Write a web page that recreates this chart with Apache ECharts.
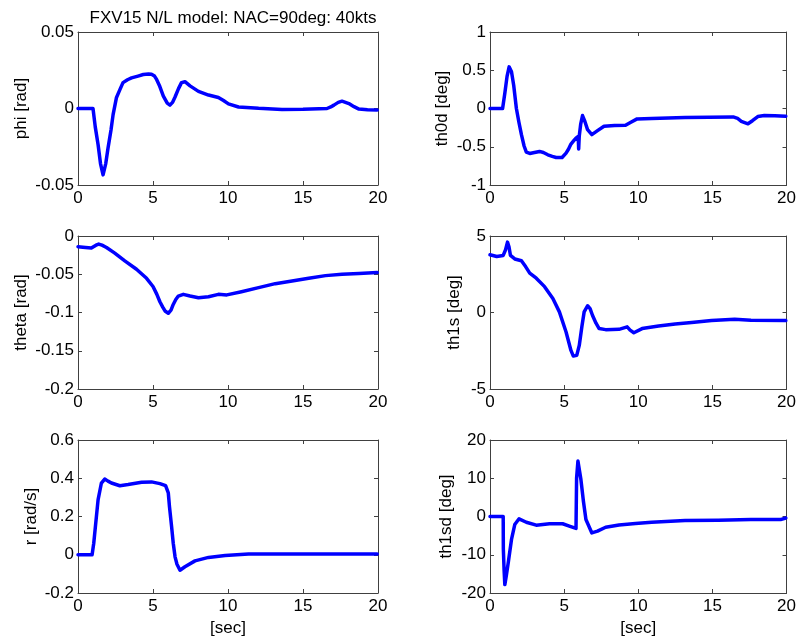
<!DOCTYPE html>
<html>
<head>
<meta charset="utf-8">
<title>FXV15 N/L model: NAC=90deg: 40kts</title>
<script src="https://cdn.jsdelivr.net/npm/echarts@6/dist/echarts.min.js"></script>
<style>
  html, body { margin: 0; padding: 0; background: #fff; }
  #chart { width: 799px; height: 641px; }
</style>
</head>
<body>
<div id="chart"></div>
<script>
// Simulated response, time histories (time in seconds)
const titleText = 'FXV15 N/L model: NAC=90deg: 40kts';
const xAxisLabel = '[sec]';

const phiT = [0, 0.5, 1.0, 1.15, 1.34, 1.5, 1.67, 1.85, 2.0, 2.2, 2.34, 2.56, 2.8, 3.0, 3.3, 3.57, 4.0, 4.35, 4.7, 4.9, 5.1, 5.24, 5.45, 5.69, 5.95, 6.13, 6.3, 6.47, 6.7, 6.9, 7.13, 7.47, 8.03, 8.7, 9.36, 9.7, 10.03, 10.7, 12.04, 13.6, 15.0, 16.6, 16.85, 17.06, 17.35, 17.6, 18.06, 18.4, 18.73, 19.3, 19.95];
const phiV = [0, 0, 0, -0.012, -0.0237, -0.036, -0.0434, -0.036, -0.026, -0.014, -0.004, 0.007, 0.0125, 0.0169, 0.0188, 0.0200, 0.0212, 0.0222, 0.0226, 0.0224, 0.0212, 0.0190, 0.0145, 0.0081, 0.0035, 0.0022, 0.0040, 0.0075, 0.0130, 0.0169, 0.0175, 0.0148, 0.0112, 0.0088, 0.0072, 0.0052, 0.0030, 0.0010, 0.0001, -0.0006, -0.0005, 0, 0.0010, 0.0022, 0.0040, 0.0048, 0.0032, 0.0012, -0.0004, -0.0008, -0.0009];

const th0dT = [0, 0.5, 0.85, 1.0, 1.15, 1.29, 1.45, 1.6, 1.78, 1.95, 2.12, 2.3, 2.45, 2.68, 3.0, 3.34, 3.6, 3.9, 4.2, 4.46, 4.86, 5.13, 5.3, 5.46, 5.65, 5.8, 5.95, 5.98, 6.02, 6.12, 6.24, 6.4, 6.58, 6.87, 7.25, 7.69, 8.4, 9.14, 9.5, 9.92, 10.9, 13.15, 16.4, 16.7, 16.95, 17.4, 17.7, 18.06, 18.5, 19.2, 19.95];
const th0dV = [0, 0, 0, 0.2, 0.42, 0.544, 0.48, 0.3, 0, -0.18, -0.342, -0.49, -0.57, -0.588, -0.575, -0.561, -0.575, -0.605, -0.625, -0.64, -0.64, -0.583, -0.53, -0.465, -0.42, -0.386, -0.364, -0.53, -0.36, -0.2, -0.092, -0.17, -0.276, -0.342, -0.29, -0.232, -0.222, -0.219, -0.18, -0.136, -0.13, -0.118, -0.11, -0.13, -0.167, -0.2, -0.16, -0.105, -0.092, -0.095, -0.1];

const thetaT = [0, 0.5, 0.89, 1.0, 1.2, 1.38, 1.6, 1.9, 2.45, 3.12, 3.9, 4.57, 5.0, 5.25, 5.46, 5.65, 5.8, 6.02, 6.2, 6.35, 6.52, 6.69, 7.02, 7.47, 8.03, 8.7, 9.36, 9.92, 10.9, 12.04, 13.15, 14.27, 15.38, 16.5, 17.6, 18.73, 19.95];
const thetaV = [-0.014, -0.015, -0.0158, -0.0158, -0.012, -0.0105, -0.012, -0.015, -0.0224, -0.0325, -0.0434, -0.0553, -0.066, -0.076, -0.086, -0.093, -0.098, -0.101, -0.097, -0.0895, -0.083, -0.0785, -0.0763, -0.0785, -0.0807, -0.0794, -0.0763, -0.077, -0.0728, -0.0675, -0.0623, -0.0588, -0.0553, -0.0518, -0.0500, -0.0490, -0.0478];

const th1sT = [0, 0.45, 0.89, 1.05, 1.18, 1.28, 1.38, 1.67, 2.12, 2.4, 2.68, 3.12, 3.68, 4.24, 4.68, 5.13, 5.46, 5.62, 5.73, 5.85, 6.02, 6.2, 6.35, 6.58, 6.75, 6.91, 7.15, 7.36, 7.8, 8.7, 9.25, 9.45, 9.7, 10.26, 11.37, 12.49, 13.6, 14.94, 16.5, 17.6, 19.95];
const th1sV = [3.77, 3.66, 3.73, 4.1, 4.6, 4.3, 3.73, 3.5, 3.38, 3.0, 2.57, 2.24, 1.69, 0.92, 0.04, -1.27, -2.48, -2.85, -2.98, -2.8, -2.15, -0.9, 0.04, 0.44, 0.25, -0.18, -0.7, -1.05, -1.12, -1.1, -0.94, -1.15, -1.32, -1.05, -0.88, -0.75, -0.66, -0.53, -0.44, -0.5, -0.53];

const rT = [0, 0.5, 0.94, 1.05, 1.16, 1.34, 1.56, 1.78, 2.0, 2.23, 2.79, 3.34, 4.24, 4.9, 5.46, 5.84, 6.02, 6.1, 6.24, 6.35, 6.47, 6.6, 6.8, 7.13, 7.8, 8.7, 9.81, 11.37, 15.0, 19.95];
const rV = [0, 0, 0, 0.06, 0.147, 0.288, 0.375, 0.396, 0.385, 0.375, 0.361, 0.367, 0.379, 0.381, 0.372, 0.361, 0.323, 0.25, 0.147, 0.06, -0.011, -0.05, -0.081, -0.063, -0.032, -0.014, -0.0035, 0.0035, 0.0035, 0.0035];

const th1sdT = [0, 0.5, 0.89, 0.9, 0.95, 1.0, 1.1, 1.23, 1.45, 1.67, 1.96, 2.45, 3.12, 4.01, 4.9, 5.35, 5.8, 5.84, 5.93, 6.13, 6.3, 6.47, 6.87, 7.25, 7.8, 8.7, 9.81, 10.9, 13.15, 15.38, 17.6, 19.6, 19.95];
const th1sdV = [0, 0, 0, -8.5, -14, -17.8, -15.5, -12.1, -6.0, -2.1, -0.6, -1.5, -2.27, -1.9, -1.9, -2.5, -3.1, 10, 14.5, 9.7, 4.0, -0.8, -4.3, -3.84, -2.8, -2.2, -1.83, -1.5, -1.05, -0.96, -0.8, -0.8, -0.4];

const panels = [
  { t: phiT,   v: phiV,   name: 'phi [rad]',   min: -0.05, max: 0.05, step: 0.05, col: 0, row: 0, gap: 48 },
  { t: th0dT,  v: th0dV,  name: 'th0d [deg]',  min: -1,    max: 1,    step: 0.5,  col: 1, row: 0, gap: 39 },
  { t: thetaT, v: thetaV, name: 'theta [rad]', min: -0.2,  max: 0,    step: 0.05, col: 0, row: 1, gap: 48 },
  { t: th1sT,  v: th1sV,  name: 'th1s [deg]',  min: -5,    max: 5,    step: 5,    col: 1, row: 1, gap: 27 },
  { t: rT,     v: rV,     name: 'r [rad/s]',   min: -0.2,  max: 0.6,  step: 0.2,  col: 0, row: 2, gap: 38 },
  { t: th1sdT, v: th1sdV, name: 'th1sd [deg]', min: -20,   max: 20,   step: 10,   col: 1, row: 2, gap: 35 }
];

const FONT = "'Liberation Sans', Arial, Helvetica, sans-serif";
const AXIS_COLOR = '#404040';
const colLeft = [78, 490];
const rowTop = [32, 236, 440];
const plotW = 300, plotH = 153;

const grid = [], xAxis = [], yAxis = [], series = [];

panels.forEach((p, i) => {
  grid.push({ left: colLeft[p.col], top: rowTop[p.row], width: plotW, height: plotH });
  const lineStyle = { color: AXIS_COLOR, width: 1 };
  const tick = { show: true, inside: true, length: 4, lineStyle: { color: AXIS_COLOR } };
  const label = { color: '#000', fontSize: 17, fontFamily: FONT };
  // bottom x axis with labels
  xAxis.push({
    type: 'value', gridIndex: i, position: 'bottom', min: 0, max: 20, interval: 5,
    axisLine: { show: true, onZero: false, lineStyle },
    axisTick: tick, splitLine: { show: false },
    axisLabel: Object.assign({ margin: 5 }, label),
    name: p.row === 2 ? xAxisLabel : '', nameLocation: 'middle', nameGap: 27,
    nameTextStyle: label
  });
  // top x axis: box edge and ticks only
  xAxis.push({
    type: 'value', gridIndex: i, position: 'top', min: 0, max: 20, interval: 5,
    axisLine: { show: true, onZero: false, lineStyle },
    axisTick: tick, splitLine: { show: false }, axisLabel: { show: false }
  });
  // left y axis with labels and name
  yAxis.push({
    type: 'value', gridIndex: i, position: 'left', min: p.min, max: p.max, interval: p.step,
    axisLine: { show: true, onZero: false, lineStyle },
    axisTick: tick, splitLine: { show: false },
    axisLabel: Object.assign({ margin: 4 }, label),
    name: p.name, nameLocation: 'middle', nameGap: p.gap, nameRotate: 90,
    nameTextStyle: label
  });
  // right y axis: box edge and ticks only
  yAxis.push({
    type: 'value', gridIndex: i, position: 'right', min: p.min, max: p.max, interval: p.step,
    axisLine: { show: true, onZero: false, lineStyle },
    axisTick: tick, splitLine: { show: false }, axisLabel: { show: false }
  });
  series.push({
    type: 'line', xAxisIndex: 2 * i, yAxisIndex: 2 * i,
    data: p.t.map((t, k) => [t, p.v[k]]),
    showSymbol: false, smooth: false, silent: true, animation: false,
    lineStyle: { color: '#0000ff', width: 3.5, cap: 'round', join: 'round' }
  });
});

const chart = echarts.init(document.getElementById('chart'), null, { renderer: 'canvas' });
chart.setOption({
  backgroundColor: '#ffffff',
  animation: false,
  title: {
    text: titleText, left: 228, top: 5, textAlign: 'center',
    textStyle: { fontSize: 17, fontWeight: 'normal', color: '#000', fontFamily: FONT }
  },
  grid, xAxis, yAxis, series
});
</script>
</body>
</html>
